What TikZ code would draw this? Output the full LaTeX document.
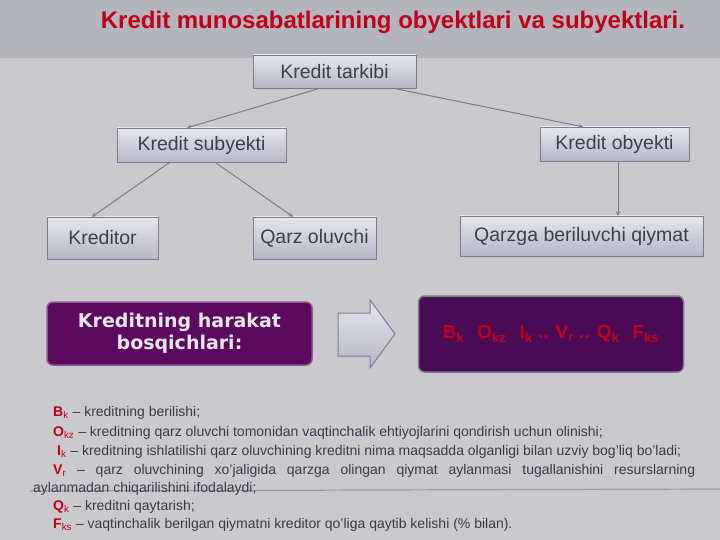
\documentclass[tikz,border=0pt]{standalone}
\usepackage{fontspec}
\setmainfont{Liberation Sans}
\newfontfamily\stagefont{DejaVu Sans}
\usetikzlibrary{positioning}
\definecolor{bgband}{HTML}{B4B4BC}
\definecolor{bgmain}{HTML}{CACACE}
\definecolor{titlered}{HTML}{C00018}
\definecolor{boxtop}{HTML}{E6E6EE}
\definecolor{boxbot}{HTML}{B6B6C6}
\definecolor{boxedge}{HTML}{7C7C8C}
\definecolor{boxtext}{HTML}{3E3E4E}
\definecolor{tiegrey}{HTML}{7A7A8A}
\definecolor{plum}{HTML}{5C0A5E}
\definecolor{darkplum}{HTML}{4A0A56}
\definecolor{plumedge}{HTML}{8A5A8A}
\definecolor{legendgrey}{HTML}{3A3A4A}
\tikzset{
  kbox/.style={draw=boxedge, top color=boxtop, bottom color=boxbot, inner sep=0pt,
    font=\fontsize{19.5}{23}\selectfont, text=boxtext},
  stagebox/.style={draw=plumedge, line width=1.5pt, rounded corners=6pt, inner sep=0pt},
  tie/.style={draw=tiegrey, line width=1pt, -stealth},
  legend/.style={anchor=base west, inner sep=0pt, font=\fontsize{14}{16}\selectfont, text=legendgrey},
}
\newcommand{\kmark}[2]{\textcolor{titlered}{\textbf{#1}\textsubscript{#2}}}
\begin{document}
\begin{tikzpicture}[x=1pt, y=-1pt]
            \useasboundingbox (0,0) rectangle (720,540);
            \fill[bgmain] (0,0) rectangle (720,540);
            \fill[bgband] (0,0) rectangle (720,58);
            \draw[tiegrey, line width=1.2pt, opacity=0.6] (30,491) -- (720,489);
            \node[font=\fontsize{24}{28}\selectfont\bfseries, text=titlered] (title) at (393,22)
                {Kredit munosabatlarining obyektlari va subyektlari.};
            \node[kbox, minimum width=163pt, minimum height=33pt] (tarkibi) at (334.5,71.5) {Kredit tarkibi};
            \node[kbox, minimum width=169pt, minimum height=34pt] (subyekt) at (201.5,145) {Kredit subyekti};
            \node[kbox, minimum width=149pt, minimum height=34pt] (obyekt) at (614.5,144) {Kredit obyekti};
            \node[kbox, minimum width=111pt, minimum height=42pt] (kreditor) at (102.5,238) {Kreditor};
            \node[kbox, minimum width=123pt, minimum height=42pt] (qarzoluvchi) at (314.5,238) {Qarz oluvchi};
            \node[kbox, minimum width=243pt, minimum height=40pt] (qiymat) at (581.5,236) {Qarzga beriluvchi qiymat};
            \draw[tie] ([xshift=-14.5pt]tarkibi.south) -- ([xshift=-14.5pt]subyekt.north);
            \draw[tie] ([xshift=58.5pt]tarkibi.south) -- ([xshift=-31.5pt]obyekt.north);
            \draw[tie] ([xshift=-31.5pt]subyekt.south) -- ([xshift=-10.5pt]kreditor.north);
            \draw[tie] ([xshift=13.5pt]subyekt.south) -- ([xshift=-21.5pt]qarzoluvchi.north);
            \draw[tie] ([xshift=3.5pt]obyekt.south) -- ([xshift=36.5pt]qiymat.north);
            \node[stagebox, fill=plum, minimum width=265pt, minimum height=63pt, align=center,
                font=\stagefont\fontsize{19}{22}\selectfont\bfseries, text=boxtop] (harakat) at (179.5,333.5)
                {Kreditning harakat\\bosqichlari:};
            \node[stagebox, draw=boxedge, fill=darkplum, minimum width=265pt, minimum height=76pt,
                font=\fontsize{19}{22}\selectfont\bfseries, text=titlered] (bosqich) at (551,334)
                {B\textsubscript{k}\hspace{13pt}O\textsubscript{kz}\hspace{13pt}I\textsubscript{k} .. V\textsubscript{r} .. Q\textsubscript{k}\hspace{13pt}F\textsubscript{ks}};
            \draw[draw=boxedge, line width=1pt, top color=boxtop, bottom color=boxbot]
                (338,313) -- (370,313) -- (370,300) -- (395,334) -- (370,368) -- (370,356) -- (338,356) -- cycle;
            \node[legend] (bk) at (53,416) {\kmark{B}{k} -- kreditning berilishi;};
            \node[legend] (okz) at (53,436) {\kmark{O}{kz} -- kreditning qarz oluvchi tomonidan vaqtinchalik ehtiyojlarini qondirish uchun olinishi;};
            \node[legend] (ik) at (57,455) {\kmark{I}{k} -- kreditning ishlatilishi qarz oluvchining kreditni nima maqsadda olganligi bilan uzviy bog'liq bo'ladi;};
            \node[legend] (vr) at (53,474) {\makebox[642pt][s]{\kmark{V}{r} -- qarz oluvchining xo'jaligida qarzga olingan qiymat aylanmasi tugallanishini resurslarning}};
            \node[legend] (vrtail) at (33,492) {aylanmadan chiqarilishini ifodalaydi;};
            \node[legend] (qk) at (53,510) {\kmark{Q}{k} -- kreditni qaytarish;};
            \node[legend] (fks) at (53,528) {\kmark{F}{ks} -- vaqtinchalik berilgan qiymatni kreditor qo'liga qaytib kelishi (\% bilan).};
        \end{tikzpicture}
\end{document}
